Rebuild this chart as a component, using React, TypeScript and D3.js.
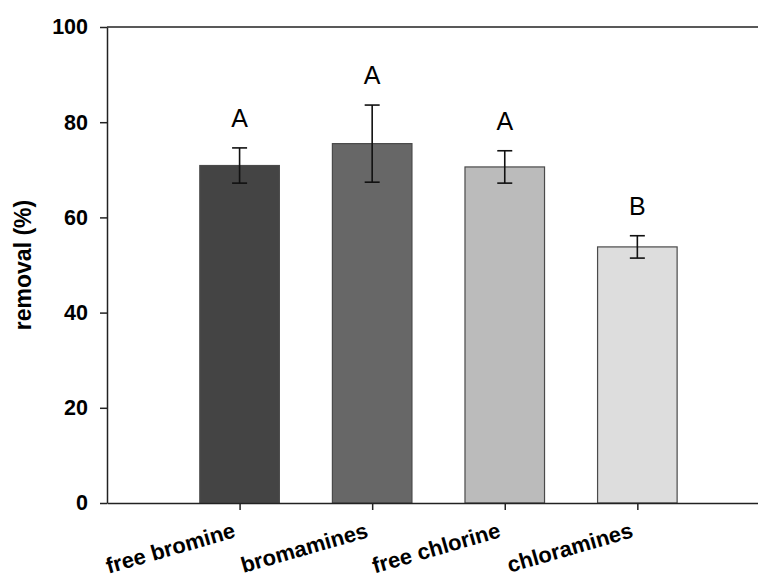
import React, { useEffect, useRef } from "react";
import * as d3 from "d3";

const categories = ["free bromine", "bromamines", "free chlorine", "chloramines"];
const removalMeans = [70.9, 75.5, 70.6, 53.8];
const removalErrors = [3.7, 8.1, 3.4, 2.35];
const groupLetters = ["A", "A", "A", "B"];
const barColors = ["#444444", "#676767", "#bbbbbb", "#dddddd"];
const yTicks = [0, 20, 40, 60, 80, 100];

const W = 758;
const H = 579;
const margin = { left: 107, top: 27, right: 0, bottom: 76 };

export default function App() {
  const ref = useRef<SVGSVGElement | null>(null);

  useEffect(() => {
    const svg = d3.select(ref.current);
    svg.selectAll("*").remove();

    const x = d3.scaleLinear().domain([0, 4.91]).range([margin.left, W - margin.right]);
    const y = d3.scaleLinear().domain([0, 100]).range([H - margin.bottom, margin.top]);
    const barW = x(0.6) - x(0);

    const data = categories.map((c, i) => ({
      c,
      pos: i + 1,
      v: removalMeans[i],
      e: removalErrors[i],
      l: groupLetters[i],
      col: barColors[i],
    }));

    // bars
    svg
      .append("g")
      .selectAll("rect")
      .data(data)
      .join("rect")
      .attr("x", (d) => x(d.pos) - barW / 2)
      .attr("y", (d) => y(d.v))
      .attr("width", barW)
      .attr("height", (d) => y(0) - y(d.v))
      .attr("fill", (d) => d.col)
      .attr("stroke", "#4a4a4a")
      .attr("stroke-width", 1.2);

    // error bars
    const eg = svg.append("g").attr("stroke", "#111").attr("stroke-width", 1.6);
    const capW = 7.5;
    data.forEach((d) => {
      const cx = x(d.pos);
      eg.append("line").attr("x1", cx).attr("x2", cx).attr("y1", y(d.v - d.e)).attr("y2", y(d.v + d.e));
      eg.append("line").attr("x1", cx - capW).attr("x2", cx + capW).attr("y1", y(d.v + d.e)).attr("y2", y(d.v + d.e));
      eg.append("line").attr("x1", cx - capW).attr("x2", cx + capW).attr("y1", y(d.v - d.e)).attr("y2", y(d.v - d.e));
    });

    // letters
    svg
      .append("g")
      .selectAll("text")
      .data(data)
      .join("text")
      .attr("x", (d) => x(d.pos))
      .attr("y", (d) => y(d.v + d.e) - 21)
      .attr("text-anchor", "middle")
      .attr("font-family", "Liberation Sans, Arial, sans-serif")
      .attr("font-size", 25)
      .attr("fill", "#000")
      .text((d) => d.l);

    const axisColor = "#222";
    svg.append("line").attr("x1", x(0)).attr("x2", W).attr("y1", y(100)).attr("y2", y(100)).attr("stroke", axisColor).attr("stroke-width", 1.5);

    // y axis
    const yAxis = d3
      .axisLeft(y)
      .tickValues(yTicks)
      .tickSize(7)
      .tickPadding(12)
      .tickSizeOuter(0);
    const yg = svg.append("g").attr("transform", `translate(${x(0)},0)`).call(yAxis);
    yg.select(".domain").attr("stroke", axisColor).attr("stroke-width", 1.5);
    yg.selectAll(".tick line").attr("stroke", axisColor).attr("stroke-width", 1.5);
    yg.selectAll(".tick text")
      .attr("font-family", "Liberation Sans, Arial, sans-serif")
      .attr("font-size", 21.5)
      .attr("font-weight", "bold")
      .attr("fill", "#000");

    // x axis
    const xAxis = d3
      .axisBottom(x)
      .tickValues(data.map((d) => d.pos))
      .tickSize(7)
      .tickSizeOuter(0)
      .tickFormat(() => "");
    const xg = svg.append("g").attr("transform", `translate(0,${y(0)})`).call(xAxis);
    xg.select(".domain").attr("stroke", axisColor).attr("stroke-width", 1.5);
    xg.selectAll(".tick line").attr("stroke", axisColor).attr("stroke-width", 1.5);

    // x labels rotated
    svg
      .append("g")
      .selectAll("text")
      .data(data)
      .join("text")
      .attr("transform", (d) => `translate(${x(d.pos) - 3},${y(0) + 34}) rotate(-16)`)
      .attr("text-anchor", "end")
      .attr("font-family", "Liberation Sans, Arial, sans-serif")
      .attr("font-size", 22)
      .attr("font-weight", "bold")
      .attr("fill", "#000")
      .text((d) => d.c);

    // y label
    svg
      .append("text")
      .attr("transform", `translate(31,${(y(0) + y(100)) / 2}) rotate(-90)`)
      .attr("text-anchor", "middle")
      .attr("font-family", "Liberation Sans, Arial, sans-serif")
      .attr("font-size", 23)
      .attr("font-weight", "bold")
      .attr("fill", "#000")
      .text("removal (%)");
  }, []);

  return (
    <svg
      ref={ref}
      width={W}
      height={H}
      style={{ position: "fixed", left: 0, top: 0, background: "#fff" }}
    />
  );
}
